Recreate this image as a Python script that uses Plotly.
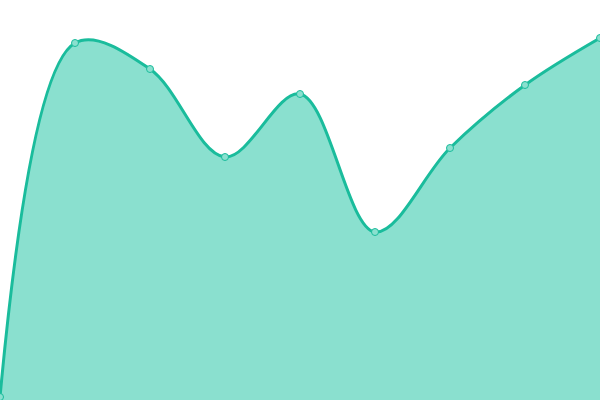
import plotly.graph_objects as go

# Values (0 = bottom edge, 400 = top edge)
x_vals = [0, 1, 2, 3, 4, 5, 6, 7, 8]
y_vals = [3, 357, 331, 243, 306, 168, 252, 315, 362]

fig = go.Figure()
fig.add_trace(go.Scatter(
    x=x_vals,
    y=y_vals,
    mode="lines+markers",
    line=dict(color="#1abc9c", width=3, shape="spline", smoothing=1),
    marker=dict(size=7, color="#8ae0cf", line=dict(color="#1abc9c", width=1)),
    fill="tozeroy",
    fillcolor="#8ae0cf",
    showlegend=False,
    cliponaxis=False,
    hoverinfo="skip",
))

fig.update_layout(
    width=600,
    height=400,
    margin=dict(l=0, r=0, t=0, b=0),
    paper_bgcolor="white",
    plot_bgcolor="white",
    xaxis=dict(range=[0, 8], visible=False),
    yaxis=dict(range=[0, 400], visible=False),
)

# drop the page's default body margin so the chart sits at the window corner
fig.write_html(
    "out.html",
    config={"displayModeBar": False},
    post_script="document.body.style.margin='0';",
)
